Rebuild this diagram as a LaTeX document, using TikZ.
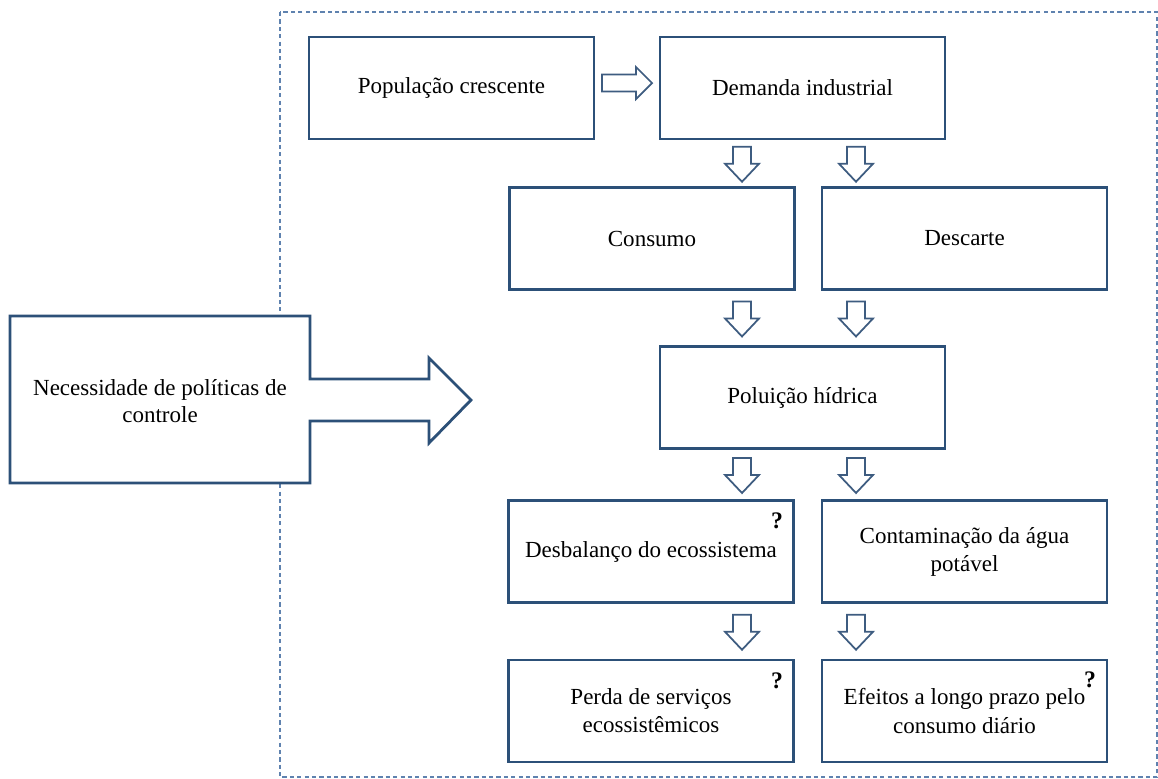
\documentclass[tikz,border=0pt]{standalone}
\usepackage{fontspec}
\setmainfont{Liberation Serif}
\usetikzlibrary{calc}

\definecolor{boxblue}{RGB}{44,80,120}
\definecolor{arrblue}{RGB}{62,92,128}
\definecolor{dashblue}{RGB}{95,130,175}

\tikzset{
  box/.style={draw=boxblue, line width=1.6pt, fill=white, minimum width=5.7cm,
    minimum height=2.04cm, align=center, font=\fontsize{13.1}{16}\selectfont},
  hollowarr/.style={draw=arrblue, line width=1pt, fill=white, line join=miter},
  qmark/.style={font=\fontsize{13.5}{16}\selectfont\bfseries, inner sep=0pt}
}

% hollow arrow pointing down, at x=#1, between node #2 and node #3
\newcommand{\hollowdown}[3]{
  \path ($(#2.south)!.5!(#3.north)$) coordinate (mid);
  \draw[hollowarr] (#1,0 |- mid) ++(-9,-16.5) -- ++(0,17) -- ++(-8,0) -- ++(17,18)
    -- ++(17,-18) -- ++(-8,0) -- ++(0,-17) -- cycle;
}
% hollow arrow pointing right, between node #1 and node #2
\newcommand{\hollowright}[2]{
  \path ($(#1.east)!.5!(#2.west)$) coordinate (mid);
  \draw[hollowarr] (mid) ++(-25,-13.5) -- ++(34,0) -- ++(0,-7.5) -- ++(16,16)
    -- ++(-16,16) -- ++(0,-7.5) -- ++(-34,0) -- cycle;
}

\begin{document}
\begin{tikzpicture}[x=0.02cm, y=-0.02cm]
\useasboundingbox (0,0) rectangle (1158,778);

\draw[dashblue, line width=.6pt, dash pattern=on 2.4pt off 1.8pt] (280,12) rectangle (1157,777);

% left block arrow
\draw[boxblue, line width=1.6pt, fill=white, line join=miter]
  (10,316) -- (310,316) -- (310,379) -- (429,379) -- (429,358) -- (471,400)
  -- (429,443) -- (429,421) -- (310,421) -- (310,483) -- (10,483) -- cycle;
\node[align=center, font=\fontsize{13.1}{15.5}\selectfont] (need) at (160,401)
  {Necessidade de políticas de\\controle};

\node[box] (pop) at (451.5,88) {População crescente};
\node[box] (dem) at (802.5,88) {Demanda industrial};
\node[box] (cons) at (652,238.5) {Consumo};
\node[box] (desc) at (964.5,238.5) {Descarte};
\node[box] (pol) at (802.5,397.5) {Poluição hídrica};
\node[box] (desb) at (651,551.5) {Desbalanço do ecossistema};
\node[box] (cont) at (964.5,551.5) {Contaminação da água\\potável};
\node[box] (perda) at (651,711) {Perda de serviços\\ecossistêmicos};
\node[box] (efe) at (964.5,711) {Efeitos a longo prazo pelo\\consumo diário};

\node[qmark] (qdesb) at (777,521) {?};
\node[qmark] (qperda) at (777,681) {?};
\node[qmark] (qefe) at (1090,680) {?};

\hollowright{pop}{dem}
\hollowdown{742}{dem}{cons}
\hollowdown{856}{dem}{desc}
\hollowdown{742}{cons}{pol}
\hollowdown{856}{desc}{pol}
\hollowdown{742}{pol}{desb}
\hollowdown{856}{pol}{cont}
\hollowdown{742}{desb}{perda}
\hollowdown{856}{cont}{efe}
\end{tikzpicture}
\end{document}
